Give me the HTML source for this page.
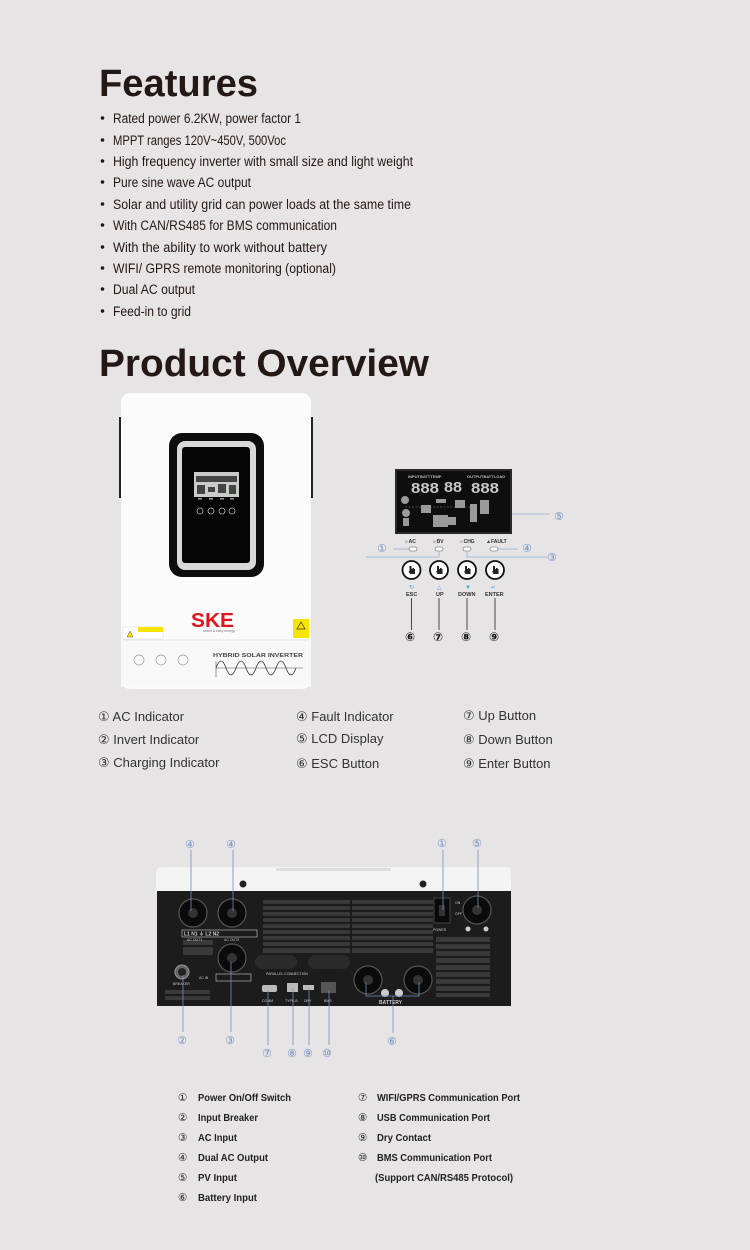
<!DOCTYPE html>
<html><head><meta charset="utf-8"><style>
html,body{margin:0;padding:0;background:#e6e4e5;}
svg{display:block;}
text{font-family:"Liberation Sans","DejaVu Sans",sans-serif;}
</style></head><body>
<svg width="750" height="1250" viewBox="0 0 750 1250" xmlns="http://www.w3.org/2000/svg">
<rect width="750" height="1250" fill="#e6e4e5"/>

<!-- Features -->
<text x="99" y="96" font-size="38" font-weight="bold" fill="#231815" textLength="159" lengthAdjust="spacingAndGlyphs">Features</text>
<g font-size="13.5" fill="#231815">
<g fill="#231815">
<circle cx="102.5" cy="118" r="1.8"/><circle cx="102.5" cy="140" r="1.8"/><circle cx="102.5" cy="161" r="1.8"/><circle cx="102.5" cy="182" r="1.8"/><circle cx="102.5" cy="204" r="1.8"/><circle cx="102.5" cy="225" r="1.8"/><circle cx="102.5" cy="247" r="1.8"/><circle cx="102.5" cy="268" r="1.8"/><circle cx="102.5" cy="289" r="1.8"/><circle cx="102.5" cy="311" r="1.8"/>
</g>
<text x="113" y="123" textLength="188" lengthAdjust="spacingAndGlyphs">Rated power 6.2KW, power factor 1</text>
<text x="113" y="145" textLength="173" lengthAdjust="spacingAndGlyphs">MPPT ranges 120V~450V, 500Voc</text>
<text x="113" y="166" textLength="300" lengthAdjust="spacingAndGlyphs">High frequency inverter with small size and light weight</text>
<text x="113" y="187" textLength="138" lengthAdjust="spacingAndGlyphs">Pure sine wave AC output</text>
<text x="113" y="209" textLength="298" lengthAdjust="spacingAndGlyphs">Solar and utility grid can power loads at the same time</text>
<text x="113" y="230" textLength="224" lengthAdjust="spacingAndGlyphs">With CAN/RS485 for BMS communication</text>
<text x="113" y="252" textLength="214" lengthAdjust="spacingAndGlyphs">With the ability to work without battery</text>
<text x="113" y="273" textLength="223" lengthAdjust="spacingAndGlyphs">WIFI/ GPRS remote monitoring (optional)</text>
<text x="113" y="294" textLength="82" lengthAdjust="spacingAndGlyphs">Dual AC output</text>
<text x="113" y="316" textLength="78" lengthAdjust="spacingAndGlyphs">Feed-in to grid</text>
</g>
<text x="99" y="376" font-size="38" font-weight="bold" fill="#231815" textLength="330" lengthAdjust="spacingAndGlyphs">Product Overview</text>

<!-- Front inverter -->
<rect x="119" y="417" width="4" height="81" fill="#222"/>
<rect x="309" y="417" width="4" height="81" fill="#222"/>
<rect x="121" y="393" width="190" height="296" rx="9" fill="#fbfbfb"/>
<rect x="121" y="641" width="190" height="46" fill="#f8f8f8"/>
<rect x="169" y="433" width="95" height="144" rx="13" fill="#0d0d0d"/>
<rect x="177" y="441" width="79" height="129" rx="8" fill="#d8d8d8"/>
<rect x="182" y="447" width="68" height="116" rx="3" fill="#050505"/>
<rect x="194" y="472" width="45" height="25" fill="#c9cbc9"/>
<g fill="#444"><rect x="196" y="476" width="41" height="6"/><rect x="197" y="485" width="8" height="9"/><rect x="208" y="487" width="7" height="5"/><rect x="218" y="484" width="8" height="9"/><rect x="229" y="485" width="7" height="9"/></g>
<g fill="none" stroke="#bbb" stroke-width="0.8"><circle cx="200" cy="511" r="3"/><circle cx="211" cy="511" r="3"/><circle cx="222" cy="511" r="3"/><circle cx="232" cy="511" r="3"/></g>
<g fill="#999"><rect x="198" y="498" width="4" height="1.5"/><rect x="209" y="498" width="4" height="1.5"/><rect x="220" y="498" width="4" height="1.5"/><rect x="230" y="498" width="4" height="1.5"/></g>
<text x="191" y="627" font-size="20" font-weight="bold" fill="#e0141c" textLength="43" lengthAdjust="spacingAndGlyphs">SKE</text>
<text x="203" y="632" font-size="3.5" fill="#777">smart &amp; easy energy</text>
<rect x="123" y="627" width="40" height="12" fill="#fff" stroke="#ddd" stroke-width="0.5"/>
<rect x="138" y="627" width="25" height="5" fill="#f7e400"/>
<polygon points="127,637 130,631 133,637" fill="#f7e400" stroke="#333" stroke-width="0.4"/>
<rect x="293" y="619" width="16" height="19" fill="#f7e400"/>
<polygon points="297,629 301,622 305,629" fill="none" stroke="#333" stroke-width="0.7"/>
<line x1="123" y1="640" x2="309" y2="640" stroke="#ccc" stroke-width="0.6"/>
<g fill="none" stroke="#999" stroke-width="0.7"><circle cx="139" cy="660" r="5"/><circle cx="161" cy="660" r="5"/><circle cx="183" cy="660" r="5"/></g>
<text x="213" y="657" font-size="5" font-weight="bold" fill="#444" textLength="90" lengthAdjust="spacingAndGlyphs">HYBRID SOLAR INVERTER</text>
<line x1="216" y1="661" x2="216" y2="677" stroke="#555" stroke-width="0.6"/>
<line x1="216" y1="668" x2="303" y2="668" stroke="#555" stroke-width="0.5"/>
<path d="M216,668 q5,-14 10,0 t10,0 t10,0 t10,0 t10,0 t10,0 t10,0 t10,0" fill="none" stroke="#333" stroke-width="0.8"/>

<!-- LCD panel -->
<rect x="395" y="469" width="117" height="65" fill="#2a2a2a"/>
<rect x="397" y="471" width="113" height="61" fill="#0e0e0e"/>
<g fill="#bdbdbd" font-size="4" font-weight="bold"><text x="408" y="478">INPUTBATTTEMP</text><text x="467" y="478">OUTPUTBATTLOAD</text></g>
<g font-size="15" fill="#c8c8c8" font-family="Liberation Mono,monospace" font-weight="bold"><text x="411" y="493" textLength="28" lengthAdjust="spacingAndGlyphs">888</text><text x="444" y="492" textLength="18" lengthAdjust="spacingAndGlyphs">88</text><text x="471" y="493" textLength="28" lengthAdjust="spacingAndGlyphs">888</text></g>
<g fill="#9a9a9a"><circle cx="405" cy="500" r="4"/><circle cx="406" cy="513" r="4"/><rect x="403" y="518" width="6" height="8"/><rect x="421" y="505" width="10" height="8"/><rect x="436" y="499" width="10" height="4"/><rect x="433" y="515" width="15" height="12"/><rect x="455" y="500" width="10" height="8"/><rect x="470" y="504" width="7" height="18"/><rect x="480" y="500" width="9" height="14"/><rect x="448" y="517" width="8" height="8"/></g>
<line x1="405" y1="507" x2="470" y2="507" stroke="#888" stroke-width="0.6" stroke-dasharray="2,1.5"/>
<g font-size="5" font-weight="bold" fill="#333"><text x="404" y="543">☼AC</text><text x="432" y="543">☼BV</text><text x="459" y="543">☼CHG</text><text x="486" y="543">▲FAULT</text></g>
<g fill="#fff" stroke="#555" stroke-width="0.6"><rect x="409" y="547" width="8" height="4" rx="2"/><rect x="435" y="547" width="8" height="4" rx="2"/><rect x="463" y="547" width="8" height="4" rx="2"/><rect x="490" y="547" width="8" height="4" rx="2"/></g>
<g stroke="#8fb0d8" stroke-width="0.8" fill="none">
<line x1="512" y1="514" x2="550" y2="514"/>
<line x1="393" y1="549" x2="409" y2="549"/>
<line x1="498" y1="549" x2="518" y2="549"/>
<polyline points="439,551 439,557 366,557"/>
<polyline points="467,551 467,557 548,557"/>
</g>
<g fill="#6d8fc6" font-size="11"><text x="377" y="552">①</text><text x="554" y="520">⑤</text><text x="522" y="552">④</text><text x="547" y="561">③</text></g>
<g fill="#fff" stroke="#111" stroke-width="1.8"><circle cx="411.5" cy="570" r="9"/><circle cx="439" cy="570" r="9"/><circle cx="467" cy="570" r="9"/><circle cx="495" cy="570" r="9"/></g>
<g fill="#222">
<path d="M409.5,566 h2 v3 h1 v-1 h1.5 v1 h1 v5 h-5 l-1.5,-3 h1 z" transform="translate(0,0)"/>
<path d="M409.5,566 h2 v3 h1 v-1 h1.5 v1 h1 v5 h-5 l-1.5,-3 h1 z" transform="translate(27.5,0)"/>
<path d="M409.5,566 h2 v3 h1 v-1 h1.5 v1 h1 v5 h-5 l-1.5,-3 h1 z" transform="translate(55.5,0)"/>
<path d="M409.5,566 h2 v3 h1 v-1 h1.5 v1 h1 v5 h-5 l-1.5,-3 h1 z" transform="translate(83.5,0)"/>
</g>
<g fill="#4a9fd8" font-size="6"><text x="409" y="589">↻</text><text x="437" y="589">△</text><text x="465" y="589">▼</text><text x="491" y="589">↵</text></g>
<g font-size="5.5" font-weight="bold" fill="#333"><text x="406" y="596">ESC</text><text x="436" y="596">UP</text><text x="458" y="596">DOWN</text><text x="485" y="596">ENTER</text></g>
<g stroke="#222" stroke-width="0.8"><line x1="411.5" y1="598" x2="411.5" y2="630"/><line x1="439" y1="598" x2="439" y2="630"/><line x1="467" y1="598" x2="467" y2="630"/><line x1="495" y1="598" x2="495" y2="630"/></g>
<g fill="#111" font-size="12" font-weight="bold"><text x="405" y="641">⑥</text><text x="433" y="641">⑦</text><text x="461" y="641">⑧</text><text x="489" y="641">⑨</text></g>

<!-- Legend 1 -->
<g font-size="13" fill="#333">
<text x="98" y="721">① AC Indicator</text><text x="98" y="744">② Invert Indicator</text><text x="98" y="767">③ Charging Indicator</text>
<text x="296" y="721">④ Fault Indicator</text><text x="296" y="743">⑤ LCD Display</text><text x="296" y="768">⑥ ESC Button</text>
<text x="463" y="720">⑦ Up Button</text><text x="463" y="744">⑧ Down Button</text><text x="463" y="768">⑨ Enter Button</text>
</g>

<!-- Rear view -->
<path d="M163,867 H505 Q511,867 511,873 V892 H156 V873 Q156,867 163,867 Z" fill="#f4f4f4"/>
<rect x="276" y="868" width="115" height="3" fill="#ddd"/>
<rect x="157" y="891" width="354" height="115" fill="#1c1c1d"/>
<circle cx="243" cy="884" r="3.5" fill="#222"/><circle cx="423" cy="884" r="3.5" fill="#222"/>
<g fill="#3a3a3b">
<rect x="263" y="900" width="87" height="53"/><rect x="352" y="900" width="81" height="53"/>
<rect x="436" y="937" width="54" height="60"/><rect x="183" y="940" width="30" height="15"/><rect x="165" y="990" width="45" height="10"/>
</g>
<g stroke="#1c1c1d" stroke-width="2.2">
<line x1="263" y1="905" x2="433" y2="905"/><line x1="263" y1="911" x2="433" y2="911"/><line x1="263" y1="917" x2="433" y2="917"/><line x1="263" y1="923" x2="433" y2="923"/><line x1="263" y1="929" x2="433" y2="929"/><line x1="263" y1="935" x2="433" y2="935"/><line x1="263" y1="941" x2="433" y2="941"/><line x1="263" y1="947" x2="433" y2="947"/>
<line x1="436" y1="943" x2="490" y2="943"/><line x1="436" y1="950" x2="490" y2="950"/><line x1="436" y1="957" x2="490" y2="957"/><line x1="436" y1="964" x2="490" y2="964"/><line x1="436" y1="971" x2="490" y2="971"/><line x1="436" y1="978" x2="490" y2="978"/><line x1="436" y1="985" x2="490" y2="985"/><line x1="436" y1="992" x2="490" y2="992"/>
<line x1="183" y1="946" x2="213" y2="946"/><line x1="165" y1="995" x2="210" y2="995"/>
</g>
<g fill="#2b2b2c"><rect x="255" y="955" width="42" height="14" rx="7"/><rect x="308" y="955" width="42" height="14" rx="7"/></g>
<text x="266" y="975" font-size="3.5" fill="#ccc">PARALLEL CONNECTION</text>
<g fill="#0b0b0b" stroke="#555" stroke-width="1.2">
<circle cx="193" cy="913" r="14"/><circle cx="232" cy="913" r="14"/><circle cx="232" cy="958" r="14"/><circle cx="477" cy="910" r="14"/><circle cx="368" cy="980" r="14"/><circle cx="418" cy="980" r="14"/>
</g>
<g fill="#333"><circle cx="193" cy="913" r="5"/><circle cx="232" cy="913" r="5"/><circle cx="232" cy="958" r="5"/><circle cx="477" cy="910" r="5"/><circle cx="368" cy="980" r="5"/><circle cx="418" cy="980" r="5"/></g>
<rect x="182" y="930" width="75" height="7" fill="none" stroke="#ccc" stroke-width="0.6"/>
<text x="184" y="935.5" font-size="5" fill="#ccc" font-weight="bold">L1 N1 ⏚ L2 N2</text>
<g font-size="3.5" fill="#ccc"><text x="187" y="941">AC OUT1</text><text x="224" y="941">AC OUT2</text><text x="199" y="979">AC IN</text><text x="173" y="985">BREAKER</text><text x="433" y="931">POWER</text><text x="455" y="904">ON</text><text x="455" y="915">OFF</text><text x="262" y="1002">COMM</text><text x="285" y="1002">TYPE-B</text><text x="304" y="1002">DRY</text><text x="324" y="1002">BMS</text><text x="379" y="1004" font-size="5" font-weight="bold">BATTERY</text></g>
<rect x="216" y="974" width="35" height="7" fill="none" stroke="#ccc" stroke-width="0.6"/>
<circle cx="182" cy="972" r="7" fill="#666" stroke="#999"/>
<circle cx="182" cy="972" r="4" fill="#222"/>
<rect x="434" y="898" width="16" height="25" fill="#0a0a0a" stroke="#444"/>
<rect x="439" y="905" width="6" height="11" fill="#333"/>
<g fill="#ccc"><circle cx="468" cy="929" r="2.5"/><circle cx="486" cy="929" r="2.5"/><circle cx="385" cy="993" r="4"/><circle cx="399" cy="993" r="4"/></g>
<g fill="#bbb"><rect x="262" y="985" width="15" height="7" rx="2"/><rect x="287" y="983" width="11" height="9"/><rect x="303" y="985" width="11" height="5"/><rect x="321" y="982" width="15" height="11" fill="#555"/></g>
<g stroke="#6d8fc6" stroke-width="0.8" fill="none">
<line x1="191" y1="850" x2="191" y2="911"/><line x1="233" y1="850" x2="233" y2="911"/>
<line x1="443" y1="850" x2="443" y2="910"/><line x1="478" y1="850" x2="478" y2="908"/>
<line x1="183" y1="1032" x2="183" y2="975"/><line x1="231" y1="1032" x2="231" y2="962"/>
<line x1="268" y1="1045" x2="268" y2="990"/><line x1="293" y1="1045" x2="293" y2="988"/><line x1="309" y1="1045" x2="309" y2="988"/><line x1="329" y1="1045" x2="329" y2="990"/>
<polyline points="366,982 366,996 419,996 419,982"/><line x1="393" y1="996" x2="393" y2="1033"/>
</g>
<g fill="#6d8fc6" font-size="11">
<text x="185" y="848">④</text><text x="226" y="848">④</text><text x="437" y="847">①</text><text x="472" y="847">⑤</text>
<text x="177" y="1044">②</text><text x="225" y="1044">③</text><text x="262" y="1057">⑦</text><text x="287" y="1057">⑧</text><text x="303" y="1057">⑨</text><text x="322" y="1057">⑩</text><text x="387" y="1045">⑥</text>
</g>

<!-- Legend 2 -->
<g font-size="10.5" fill="#222">
<text x="178" y="1101">①</text><text x="178" y="1121">②</text><text x="178" y="1141">③</text><text x="178" y="1161">④</text><text x="178" y="1181">⑤</text><text x="178" y="1201">⑥</text>
<text x="358" y="1101">⑦</text><text x="358" y="1121">⑧</text><text x="358" y="1141">⑨</text><text x="358" y="1161">⑩</text>
</g>
<g font-size="10.5" fill="#222" font-weight="600">
<text x="198" y="1101" textLength="93" lengthAdjust="spacingAndGlyphs">Power On/Off Switch</text>
<text x="198" y="1121" textLength="60" lengthAdjust="spacingAndGlyphs">Input Breaker</text>
<text x="198" y="1141" textLength="39" lengthAdjust="spacingAndGlyphs">AC Input</text>
<text x="198" y="1161" textLength="70" lengthAdjust="spacingAndGlyphs">Dual AC Output</text>
<text x="198" y="1181" textLength="39" lengthAdjust="spacingAndGlyphs">PV Input</text>
<text x="198" y="1201" textLength="59" lengthAdjust="spacingAndGlyphs">Battery Input</text>
<text x="377" y="1101" textLength="143" lengthAdjust="spacingAndGlyphs">WIFI/GPRS Communication Port</text>
<text x="377" y="1121" textLength="113" lengthAdjust="spacingAndGlyphs">USB Communication Port</text>
<text x="377" y="1141" textLength="54" lengthAdjust="spacingAndGlyphs">Dry Contact</text>
<text x="377" y="1161" textLength="115" lengthAdjust="spacingAndGlyphs">BMS Communication Port</text>
<text x="375" y="1181" textLength="138" lengthAdjust="spacingAndGlyphs">(Support CAN/RS485 Protocol)</text>
</g>
</svg>
</body></html>
